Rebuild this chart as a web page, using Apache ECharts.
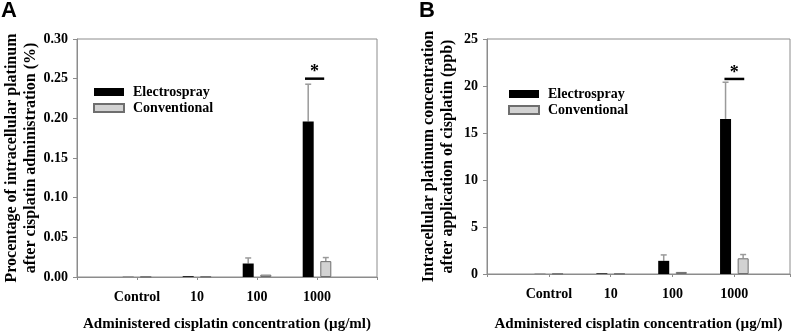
<!DOCTYPE html>
<html>
<head>
<meta charset="utf-8">
<script src="https://cdn.jsdelivr.net/npm/echarts@6/dist/echarts.min.js"></script>
<style>
  html, body { margin: 0; padding: 0; background: #fff; }
  #chart { width: 803px; height: 335px; }
</style>
</head>
<body>
<div id="chart"></div>
<script>
// categories on the x axis (placed at 1..4)
var categories = ['Control', '10', '100', '1000'];

// panel A: percentage of intracellular platinum (%)
var electroA = [0.0003, 0.001, 0.017, 0.196];
var electroASd = [0, 0.0003, 0.007, 0.047];
var convA = [0.0002, 0.0005, 0.003, 0.020];
var convASd = [0, 0, 0.0006, 0.0045];
var yTicksA = { min: 0, max: 0.30, interval: 0.05 };
var sigA = [[3.8, 4.12, 0.25]];

// panel B: intracellular platinum concentration (ppb)
var electroB = [0.02, 0.07, 1.4, 16.5];
var electroBSd = [0, 0.02, 0.63, 3.9];
var convB = [0.02, 0.03, 0.22, 1.67];
var convBSd = [0, 0, 0.08, 0.4];
var yTicksB = { min: 0, max: 25, interval: 5 };
var sigB = [[3.84, 4.16, 20.75]];

var serif = '"Liberation Serif", "Times New Roman", serif';
var frameColor = '#8c8c8c';
var barW = 11;
var barOffset = 8.8;

function barData(vals) {
    return vals.map(function (v, i) { return [i + 1, v]; });
}
function errData(vals, sd) {
    return vals.map(function (v, i) { return [i + 1, v, v + sd[i]]; });
}

function errorSeries(idx, data, offset) {
    return {
        type: 'custom',
        xAxisIndex: idx,
        yAxisIndex: idx,
        data: data,
        z: 1,
        renderItem: function (params, api) {
            var p0 = api.coord([api.value(0), api.value(1)]);
            var p1 = api.coord([api.value(0), api.value(2)]);
            var cx = p0[0] + offset;
            if (p0[1] - p1[1] < 1) return null;
            var st = { stroke: '#9a9a9a', lineWidth: 1.5 };
            return {
                type: 'group',
                children: [
                    { type: 'line', shape: { x1: cx, y1: p0[1], x2: cx, y2: p1[1] }, style: st },
                    { type: 'line', shape: { x1: cx - 3, y1: p1[1], x2: cx + 3, y2: p1[1] }, style: st }
                ]
            };
        }
    };
}

function sigSeries(idx, data) {
    return {
        type: 'custom',
        xAxisIndex: idx,
        yAxisIndex: idx,
        data: data,
        z: 5,
        renderItem: function (params, api) {
            var a = api.coord([api.value(0), api.value(2)]);
            var b = api.coord([api.value(1), api.value(2)]);
            return {
                type: 'group',
                children: [
                    { type: 'line', shape: { x1: a[0], y1: a[1], x2: b[0], y2: b[1] },
                      style: { stroke: '#000', lineWidth: 2.5 } },
                    { type: 'text', style: { text: '*', x: (a[0] + b[0]) / 2, y: a[1] + 3,
                      textAlign: 'center', textVerticalAlign: 'bottom',
                      font: 'bold 18px ' + serif, fill: '#000' } }
                ]
            };
        }
    };
}

function xAxisFor(idx, max, gap) {
    return {
        type: 'value',
        gridIndex: idx,
        min: 0,
        max: max,
        interval: 1,
        axisLine: { lineStyle: { color: frameColor, width: 1 } },
        axisTick: { length: 3, lineStyle: { color: frameColor } },
        splitLine: { show: false },
        axisLabel: {
            margin: 13,
            color: '#000',
            fontFamily: serif,
            fontWeight: 'bold',
            fontSize: 14,
            formatter: function (v) { return categories[v - 1] || ''; }
        },
        name: 'Administered cisplatin concentration (\u00b5g/ml)',
        nameLocation: 'middle',
        nameGap: gap,
        nameMoveOverlap: false,
        nameTextStyle: { color: '#000', fontFamily: serif, fontWeight: 'bold', fontSize: 15 }
    };
}

function yAxisFor(idx, ticks, name, gap, digits) {
    return {
        type: 'value',
        gridIndex: idx,
        min: ticks.min,
        max: ticks.max,
        interval: ticks.interval,
        axisLine: { show: true, lineStyle: { color: frameColor, width: 1 } },
        axisTick: { show: true, length: 4, lineStyle: { color: frameColor } },
        splitLine: { show: false },
        axisLabel: {
            margin: 9,
            color: '#000',
            fontFamily: serif,
            fontWeight: 'bold',
            fontSize: 14,
            formatter: function (v) { return v.toFixed(digits); }
        },
        name: name,
        nameLocation: 'middle',
        nameRotate: 90,
        nameGap: gap,
        nameMoveOverlap: false,
        nameTextStyle: { color: '#000', fontFamily: serif, fontWeight: 'bold', fontSize: 16, lineHeight: 19 }
    };
}

function legendFor(left, top) {
    return {
        orient: 'vertical',
        left: left,
        top: top,
        itemWidth: 30,
        itemHeight: 8,
        itemGap: 2,
        icon: 'rect',
        selectedMode: false,
        data: ['Electrospray', 'Conventional'],
        textStyle: { color: '#000', fontFamily: serif, fontWeight: 'bold', fontSize: 14, padding: [0, 0, 0, 4] }
    };
}

var chart = echarts.init(document.getElementById('chart'), null, { renderer: 'canvas' });

var option = {
    animation: false,
    backgroundColor: '#fff',
    graphic: [
        { type: 'text', left: 1, top: 0, style: { text: 'A', font: 'bold 22px "Liberation Sans", Arial, sans-serif', fill: '#000' } },
        { type: 'text', left: 419, top: 0, style: { text: 'B', font: 'bold 22px "Liberation Sans", Arial, sans-serif', fill: '#000' } }
    ],
    grid: [
        { left: 77, top: 39, right: 426, bottom: 58, outerBoundsMode: 'none', containLabel: false,
          show: true, borderColor: frameColor, borderWidth: 1 },
        { left: 487, top: 39, right: 13, bottom: 61, outerBoundsMode: 'none', containLabel: false,
          show: true, borderColor: frameColor, borderWidth: 1 }
    ],
    legend: [legendFor(88, 80), legendFor(503, 82)],
    xAxis: [xAxisFor(0, 5, 40), xAxisFor(1, 4.9, 43)],
    yAxis: [
        yAxisFor(0, yTicksA, 'Procentage of intracellular platinum\nafter cisplatin administration (%)', 37, 2),
        yAxisFor(1, yTicksB, 'Intracellular platinum concentration\nafter application of cisplatin (ppb)', 30, 0)
    ],
    series: [
        { name: 'Electrospray', type: 'bar', xAxisIndex: 0, yAxisIndex: 0, barWidth: barW, barGap: '60%',
          data: barData(electroA), itemStyle: { color: '#000' }, z: 2 },
        { name: 'Conventional', type: 'bar', xAxisIndex: 0, yAxisIndex: 0, barWidth: barW, barGap: '60%',
          data: barData(convA), itemStyle: { color: '#d2d2d2', borderColor: '#6e6e6e', borderWidth: 1 }, z: 2 },
        errorSeries(0, errData(electroA, electroASd), -barOffset),
        errorSeries(0, errData(convA, convASd), barOffset),
        sigSeries(0, sigA),

        { name: 'Electrospray', type: 'bar', xAxisIndex: 1, yAxisIndex: 1, barWidth: barW, barGap: '60%',
          data: barData(electroB), itemStyle: { color: '#000' }, z: 2 },
        { name: 'Conventional', type: 'bar', xAxisIndex: 1, yAxisIndex: 1, barWidth: barW, barGap: '60%',
          data: barData(convB), itemStyle: { color: '#d2d2d2', borderColor: '#6e6e6e', borderWidth: 1 }, z: 2 },
        errorSeries(1, errData(electroB, electroBSd), -barOffset),
        errorSeries(1, errData(convB, convBSd), barOffset),
        sigSeries(1, sigB)
    ]
};

chart.setOption(option);
</script>
</body>
</html>
